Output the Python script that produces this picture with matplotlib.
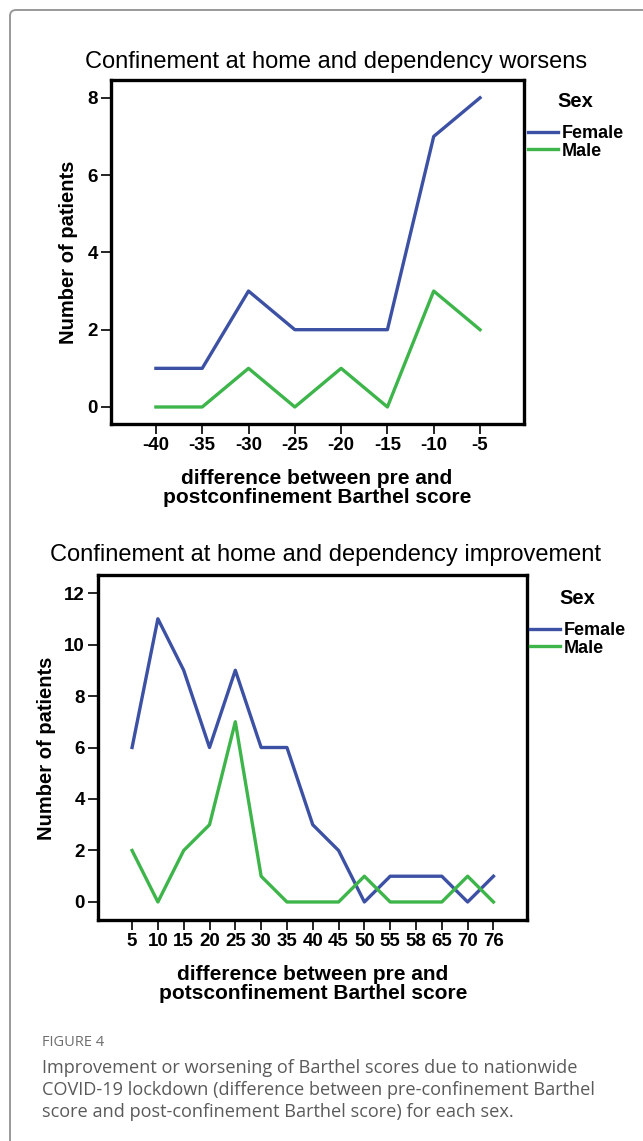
import numpy as np
import matplotlib
matplotlib.use("Agg")
import matplotlib.pyplot as plt
from matplotlib.patches import FancyBboxPatch
from matplotlib.transforms import IdentityTransform

# ---------------- data ----------------
worse_labels = ["-40", "-35", "-30", "-25", "-20", "-15", "-10", "-5"]
worse_female = [1, 1, 3, 2, 2, 2, 7, 8]
worse_male = [0, 0, 1, 0, 1, 0, 3, 2]
worse_yticks = [0, 2, 4, 6, 8]

impr_labels = ["5", "10", "15", "20", "25", "30", "35", "40", "45", "50",
               "55", "58", "65", "70", "76"]
impr_female = [6, 11, 9, 6, 9, 6, 6, 3, 2, 0, 1, 1, 1, 0, 1]
impr_male = [2, 0, 2, 3, 7, 1, 0, 0, 0, 1, 0, 0, 0, 1, 0]
impr_yticks = [0, 2, 4, 6, 8, 10, 12]

series_names = ["Female", "Male"]
BLUE = "#3c51a3"
GREEN = "#3db54a"

W, H = 643, 1141
FONT = "Liberation Sans"
plt.rcParams["font.family"] = [FONT, "DejaVu Sans"]
TICK_SIZE = 13.5

fig = plt.figure(figsize=(W / 100, H / 100), dpi=100)


def px_axes(left, top, right, bottom):
    return fig.add_axes([left / W, 1 - bottom / H, (right - left) / W, (bottom - top) / H])


def style_axes(ax, labels, yticks, xlim, ylim):
    for s in ax.spines.values():
        s.set_linewidth(2.4)
        s.set_color("black")
    ax.set_xticks(np.arange(len(labels)))
    ax.set_xticklabels(labels)
    ax.set_yticks(yticks)
    ax.set_xlim(*xlim)
    ax.set_ylim(*ylim)
    ax.tick_params(axis="both", direction="out", length=7, width=1.2,
                   color="black", pad=2.5)
    for lab in ax.get_xticklabels() + ax.get_yticklabels():
        lab.set_fontweight("bold")
        lab.set_fontsize(TICK_SIZE)


def legend(ax, x, y):
    lg = ax.legend(series_names, loc="upper left", bbox_to_anchor=(x / W, 1 - y / H),
                   bbox_transform=fig.transFigure, frameon=False, title="Sex",
                   prop={"weight": "bold", "size": 13},
                   title_fontproperties={"weight": "bold", "size": 14.5},
                   handlelength=1.65, handletextpad=0.2, labelspacing=0.05,
                   borderpad=0, borderaxespad=0)
    lg._legend_box.sep = 10


# ---------------- top chart ----------------
ax1 = px_axes(111, 80, 524, 424)
x1 = np.arange(len(worse_labels))
ax1.plot(x1, worse_female, color=BLUE, lw=2.4, label="Female")
ax1.plot(x1, worse_male, color=GREEN, lw=2.4, label="Male")
style_axes(ax1, worse_labels, worse_yticks, (-0.97, 7.95), (-0.44, 8.46))
legend(ax1, 528, 92)

fig.text(336 / W, 1 - 62 / H, "Confinement at home and dependency worsens",
         ha="center", va="center", fontsize=17)
fig.text(68 / W, 1 - 252 / H, "Number of patients", rotation=90,
         ha="center", va="center", fontsize=14.5, fontweight="bold")
fig.text(317 / W, 1 - 488 / H, "difference between pre and\npostconfinement Barthel score",
         ha="center", va="center", fontsize=15, fontweight="bold", linespacing=0.95)

# ---------------- bottom chart ----------------
ax2 = px_axes(98, 575, 527, 920)
x2 = np.arange(len(impr_labels))
ax2.plot(x2, impr_female, color=BLUE, lw=2.4, label="Female")
ax2.plot(x2, impr_male, color=GREEN, lw=2.4, label="Male")
style_axes(ax2, impr_labels, impr_yticks, (-1.32, 15.3), (-0.7, 12.7))
legend(ax2, 530, 589)

fig.text(326 / W, 1 - 555 / H, "Confinement at home and dependency improvement",
         ha="center", va="center", fontsize=17)
fig.text(47 / W, 1 - 748 / H, "Number of patients", rotation=90,
         ha="center", va="center", fontsize=14.5, fontweight="bold")
fig.text(313 / W, 1 - 984 / H, "difference between pre and\npotsconfinement Barthel score",
         ha="center", va="center", fontsize=15, fontweight="bold", linespacing=0.95)

# ---------------- caption & frame ----------------
fig.text(42 / W, 1 - 1042 / H, "FIGURE 4", ha="left", va="center",
         fontsize=10.5, color="#6e6e6e", family=["Open Sans", "DejaVu Sans"])
fig.text(42 / W, 1 - 1090 / H,
         "Improvement or worsening of Barthel scores due to nationwide\n"
         "COVID-19 lockdown (difference between pre-confinement Barthel\n"
         "score and post-confinement Barthel score) for each sex.",
         ha="left", va="center", fontsize=13.1, color="#5a5a5a",
         family=["Open Sans", "DejaVu Sans"], linespacing=1.3)

frame = FancyBboxPatch((10, -60), 720, H - 10 + 60, boxstyle="round,pad=0,rounding_size=6",
                       fill=False, edgecolor="#999999", linewidth=1.4,
                       transform=IdentityTransform())
fig.add_artist(frame)

fig.savefig("out.png", dpi=100)
